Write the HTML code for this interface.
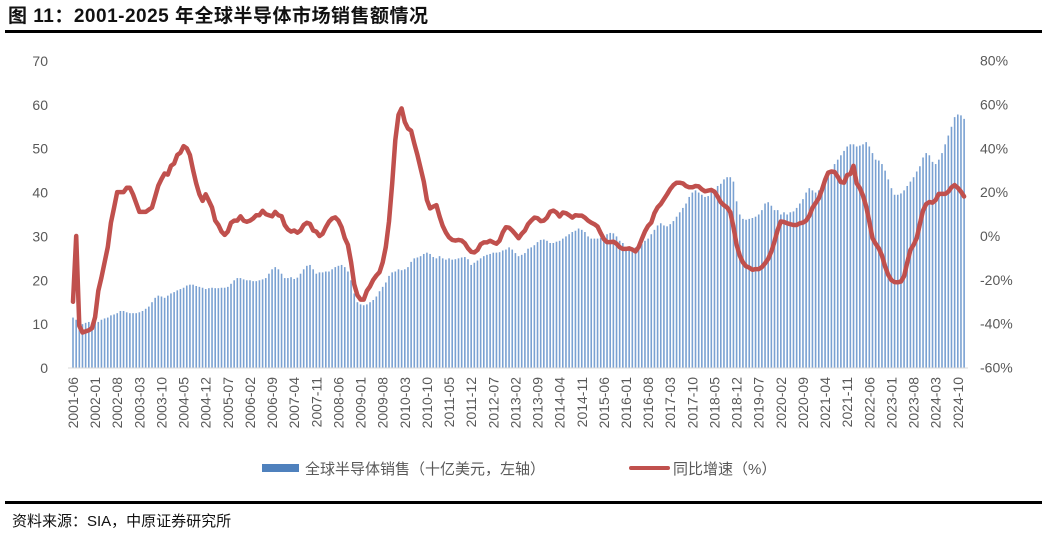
<!DOCTYPE html>
<html><head><meta charset="utf-8"><style>
body{margin:0;background:#fff;width:1047px;height:535px;overflow:hidden;font-family:"Liberation Sans","Noto Sans CJK SC",sans-serif}
</style></head><body>
<svg id="chart" width="1047" height="535" xmlns="http://www.w3.org/2000/svg" font-family="Liberation Sans, Noto Sans CJK SC, sans-serif">
<text x="8" y="22" font-size="19" font-weight="bold" fill="#111" letter-spacing="0.5">图 11：2001-2025 年全球半导体市场销售额情况</text>
<rect x="5" y="30" width="1037" height="3" fill="#000"/>
<g id="bars"></g>
<g id="yl"></g>
<g id="yr"></g>
<g id="xl"></g>
<line x1="68" y1="368" x2="968" y2="368" stroke="#d9d9d9" stroke-width="1"/>
<path id="growth" fill="none" stroke="#c0504d" stroke-width="4.5" stroke-linejoin="round" stroke-linecap="round"/>
<g>
<rect x="262" y="464" width="37" height="8" fill="#4f81bd"/>
<text x="305" y="474" font-size="15" fill="#595959">全球半导体销售（十亿美元，左轴）</text>
<line x1="631" y1="468" x2="668" y2="468" stroke="#c0504d" stroke-width="4" stroke-linecap="round"/>
<text x="673" y="474" font-size="15" fill="#595959">同比增速（%）</text>
</g>
<rect x="5" y="501" width="1037" height="3" fill="#000"/>
<text x="12" y="526" font-size="15" fill="#111">资料来源：SIA，中原证券研究所</text>
</svg>
<script>
const startYear = 2001, startMonth = 6;
const sales = [11.5,11,10.5,10,10.3,10.5,10,
10.5,10.5,11,11.3,11.5,12,12.2,12.5,13,13,12.7,12.5,
12.5,12.5,12.7,13,13.5,14,15,16,16.5,16.3,16,16.5,
17,17.3,17.7,18,18.3,18.8,19,19,18.7,18.5,18.3,18,
18.2,18.3,18.2,18.2,18.3,18.3,18.5,19.2,20,20.5,20.5,20.2,
20,20,19.8,19.8,20,20.2,20.5,21.5,22.5,23,22.5,21.5,
20.5,20.5,20.7,20.3,20.6,21.5,22.5,23.3,23.5,22.5,21.5,21.8,
21.8,22,22,22.5,23,23.3,23.5,23,22,20,17,15,
14.5,14.3,14.5,15,15.5,16.3,17.5,18.5,19.5,21,21.8,22,
22.5,22.3,22.5,23,24.2,25,25.2,25.5,26,26.3,26,25.3,
25,25.5,25,24.7,25,24.7,24.8,25,25.2,25.3,24.8,23.5,
24,24.5,25,25.5,25.8,26,26.3,26.3,26.4,26.8,27,27.5,
27,26.2,25.5,25.8,26.2,27.2,27.5,28,28.7,29.2,29.3,29,
28.5,28.5,28.8,29,29.5,30,30.5,31,31.3,31.8,31.5,31,
30,29.5,29.5,29.5,29.7,30,30.5,30.8,30.7,30,29,28.5,
27.5,27.2,27.5,27.5,28,28.3,29,29.5,30.5,31.5,32.5,33,
32.5,32.3,32.8,33.5,34.5,35.5,36.5,37.5,39,40,40.5,40,
39.5,39,39.2,40,40.5,41.5,42,43,43.5,43.5,42.5,38,
35,34,33.8,34,34.2,34.5,35,36,37.5,37.8,37,36,
36,35,35.5,35,35.5,35.7,36.5,37.5,38.5,40,41,40.5,
40,40.5,41.5,42,43.5,45,46.5,47.5,48.5,49.5,50.5,51,
51,50.5,50.7,51,51.5,50.5,49,47.5,47.3,46.5,45,43,
41,39.5,39.5,39.8,40.5,41.5,42.5,43.5,44.8,46,48,49,
48.5,47,46.5,47.5,49,51,53,55,57.2,57.8,57.6,56.8];
const growth = [-30,0,-41,-44,-43.5,-43,-42,
-37,-25,-19,-12,-5,6,13,20,20,20,22,22,
19,15,11,11,11,12,13,18,23,26,28.5,28,
32,33,37,38,41,40,37,30,24,19,16,19,
16,13,7,5,2,0.5,2,6,7,7,9,7,
6.5,7,8,9.5,9.5,11.5,10,9.5,9,11,9.5,9,
5,3,2,2.5,1.5,2.5,5,6,5.5,2.5,2,0,
1,4,6.5,8,8.5,7,4,-1,-4,-12,-22,-27,
-29,-29,-25,-23,-20,-18,-16.5,-12,-5,6.6,24,43.7,
55.2,58.2,52,49,48,42.2,37,30.9,24.8,16.4,12.6,13.4,
14.1,8.9,4.6,1.6,-0.6,-1.8,-2.1,-1.8,-2.1,-3.3,-5.6,-7.2,
-7.5,-6.4,-3.8,-2.9,-2.9,-2.2,-2.9,-3.5,-2.1,1.7,4,3.8,
2.5,0.8,-1,1,2.5,5.4,7,8.4,8.1,6.8,7,8.4,
11.1,11.6,10.7,8.9,10.7,10.4,9.5,8.4,9.5,9.3,9.3,8.4,
7,6.1,5.4,4.3,1.3,-1.4,-2.8,-2.8,-2.6,-3.5,-5.1,-5.9,
-5.9,-5.6,-6.2,-7,-5.1,-1.4,2.1,4.6,6.1,10.4,13.1,14.6,
16.8,19,21.4,23.2,24.3,24.3,24,22.8,22.2,22.2,22.8,22.6,
21.3,20.4,20.7,21,20.2,18,15.4,14,13,10.8,4.3,-4,
-9,-12,-13.8,-14.4,-15.4,-15.1,-15.1,-14.2,-12.5,-10.4,-7,-2.5,
2.8,6.6,6.4,5.8,5.4,5,5,5.8,6.1,7,9.2,12.8,
15,17.2,21,25.6,28.9,29.4,29.2,27.1,24.6,24.3,27.8,28.3,
32,24,21.9,18.4,13.4,6.6,-1,-3.5,-5.6,-9,-13.9,-17.8,
-20.1,-21,-21.1,-20.8,-18.3,-12.2,-6.4,-4,-1,5.5,11.6,14.6,
15.5,15.2,16.4,19.2,19.2,19.2,20.2,22.2,23.2,22,20.2,18];
const leftTicks = [0,10,20,30,40,50,60,70];
const rightTicks = [-60,-40,-20,0,20,40,60,80];
const labelStep = 7;

const NS = "http://www.w3.org/2000/svg";
const x = i => 73 + i * 3.16;
const yL = v => 368 - v * 4.386;
const yR = p => 236 - p * 2.193;
function mk(tag, attrs, parent) {
  const e = document.createElementNS(NS, tag);
  for (const k in attrs) e.setAttribute(k, attrs[k]);
  parent.appendChild(e);
  return e;
}
const bars = document.getElementById('bars');
sales.forEach((v, i) => {
  const r = mk('rect', {x: x(i) - 0.8, y: yL(v), width: 1.6, height: 368 - yL(v), fill: '#7aa1d2'}, bars);
  
  
});
const yl = document.getElementById('yl');
leftTicks.forEach(t => {
  const e = mk('text', {x: 48, y: yL(t) + 5, 'text-anchor': 'end', 'font-size': 14, fill: '#595959'}, yl);
  e.textContent = t;
  
  
});
const yr = document.getElementById('yr');
rightTicks.forEach(t => {
  const e = mk('text', {x: 980, y: yR(t) + 5, 'font-size': 14, fill: '#595959'}, yr);
  e.textContent = t + '%';
  
  
});
const xl = document.getElementById('xl');
for (let i = 0; i < sales.length; i += labelStep) {
  const m0 = startMonth - 1 + i;
  const yr2 = startYear + Math.floor(m0 / 12);
  const mo = (m0 % 12) + 1;
  const lbl = yr2 + '-' + (mo < 10 ? '0' : '') + mo;
  const e = mk('text', {x: 0, y: 0, 'text-anchor': 'end', 'font-size': 14, fill: '#595959', transform: 'translate(' + (x(i) + 5) + ',377) rotate(-90)'}, xl);
  e.textContent = lbl;
  
  
}
document.getElementById('growth').setAttribute('d', growth.map((p, i) => (i ? 'L' : 'M') + x(i).toFixed(1) + ',' + yR(p).toFixed(1)).join(''));
</script>
</body></html>
